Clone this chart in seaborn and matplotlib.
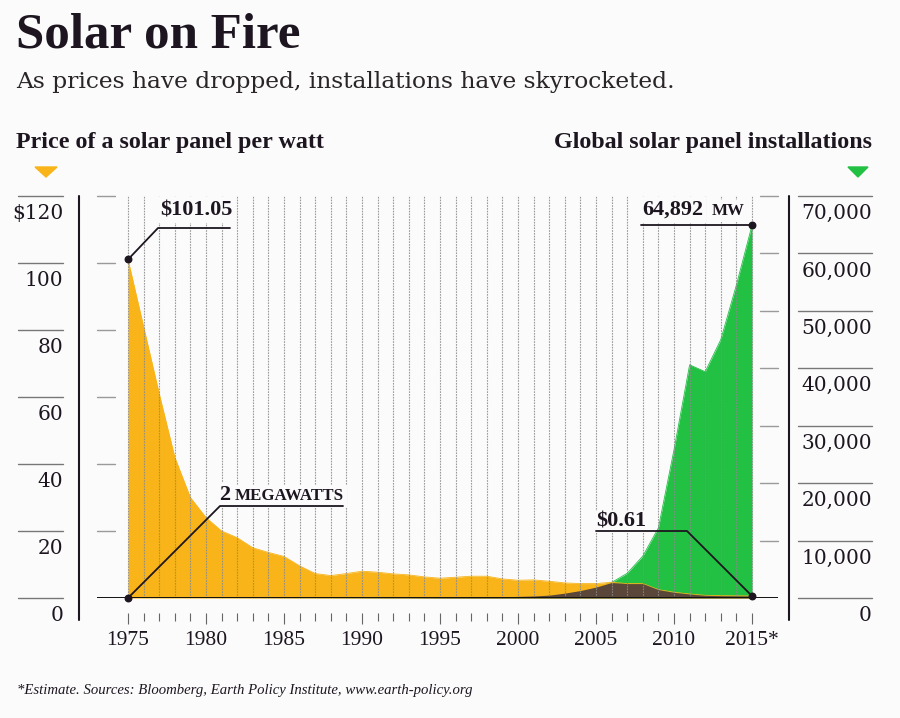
import numpy as np
import pandas as pd
import matplotlib
matplotlib.use("Agg")
import matplotlib.pyplot as plt
import matplotlib.transforms as mtransforms
from matplotlib.lines import Line2D
from matplotlib.patches import Polygon
import seaborn as sns

# data
years = list(range(1975, 2016))
price = [101.05, 81, 61, 42, 30, 24, 20, 18, 15, 13.6,
         12.4, 9.6, 7.3, 6.7, 7.3, 8.0, 7.7, 7.2, 6.9, 6.3,
         5.9, 6.2, 6.5, 6.5, 5.7, 5.3, 5.4, 5.0, 4.5, 4.3,
         4.3, 4.7, 4.3, 4.3, 2.5, 1.7, 1.2, 0.8, 0.7, 0.65,
         0.61]
installs = [2, 2, 3, 3, 4, 7, 9, 12, 17, 22,
            25, 28, 30, 35, 40, 45, 55, 58, 60, 70,
            80, 90, 120, 150, 200, 280, 350, 500, 850, 1300,
            1900, 2700, 4300, 7300, 12200, 25800, 40600, 39400, 45000, 54500,
            64892]

price_ticks = [0, 20, 40, 60, 80, 100, 120]
price_labels = ["0", "20", "40", "60", "80", "100", "$120"]
mw_ticks = [0, 10000, 20000, 30000, 40000, 50000, 60000, 70000]
mw_labels = ["0", "10,000", "20,000", "30,000", "40,000", "50,000", "60,000", "70,000"]
year_ticks = [1975, 1980, 1985, 1990, 1995, 2000, 2005, 2010, 2015]
year_labels = ["1975", "1980", "1985", "1990", "1995", "2000", "2005", "2010", "2015*"]

ORANGE = "#F8B418"
GREEN = "#22C043"
BROWN = "#5B4739"
INK = "#1d1620"
BG = "#FBFBFB"
GRID = "#8a8a8a"

df = pd.DataFrame({"year": years, "price": price, "mw": installs})
# installs expressed on the price scale, to find where both areas overlap
df["mw_as_price"] = df["mw"] * price_ticks[-1] / mw_ticks[-1]
df["overlap"] = np.minimum(df["price"], df["mw_as_price"])

sns.set_theme(style="white")
plt.rcParams["font.family"] = ["DejaVu Serif"]

W, H = 900, 718
fig = plt.figure(figsize=(W / 100, H / 100), dpi=100, facecolor=BG)


def fx(px):
    return px / W


def fy(py):
    return 1 - py / H


ax = fig.add_axes([fx(97), fy(598), (778 - 97) / W, (598 - 196) / H])
ax2 = ax.twinx()
ax.set_zorder(ax2.get_zorder() + 1)
ax.patch.set_visible(False)
ax2.patch.set_visible(False)

# green installations (behind)
sns.lineplot(data=df, x="year", y="mw", ax=ax2, color=GREEN, lw=0.6)
ax2.fill_between(df["year"], df["mw"], color=GREEN, lw=0)
ax2.set_ylim(mw_ticks[0], mw_ticks[-1])

# orange price + dark overlap (front)
sns.lineplot(data=df, x="year", y="price", ax=ax, color=ORANGE, lw=0.6)
ax.fill_between(df["year"], df["price"], color=ORANGE, lw=0)
ax.fill_between(df["year"], df["overlap"], color=BROWN, lw=0, zorder=2.5)
ax.set_ylim(price_ticks[0], price_ticks[-1])
ax.set_xlim(1975 - 31 / 15.6, 2015 + 26 / 15.6)

# dotted year grid
ax.vlines(years, 0, price_ticks[-1], colors=GRID, lw=0.8,
          linestyles=(0, (1.5, 1.0)), alpha=0.85, zorder=3)
ax.axhline(0, color="#111111", lw=1.4, zorder=4)

for a in (ax, ax2):
    for s in a.spines.values():
        s.set_visible(False)
    a.set_xlabel("")
    a.set_ylabel("")
ax.tick_params(axis="y", left=False, labelleft=False)
ax2.tick_params(axis="y", right=False, labelright=False)

# year ticks hanging under the baseline
ax.spines["bottom"].set_position(("outward", 11))
ax.set_xticks(year_ticks, year_labels)
ax.set_xticks(years, minor=True)
ax.tick_params(axis="x", which="both", bottom=True, color="#666666", width=0.8)
ax.tick_params(axis="x", which="major", length=8, pad=5, labelsize=15.5, labelcolor=INK)
ax.tick_params(axis="x", which="minor", length=5.8)
for lab in ax.get_xticklabels():
    lab.set_fontfamily("Liberation Serif")

# left scale
tl_in = mtransforms.blended_transform_factory(ax.transAxes, ax.transData)
tl_out = mtransforms.blended_transform_factory(fig.transFigure, ax.transData)
tl_txt = mtransforms.offset_copy(tl_out, fig=fig, y=-23, units="dots")
for v, lab in zip(price_ticks, price_labels):
    if v > 0:
        ax.plot([0, 18 / 681], [v, v], transform=tl_in, color="#9a9a9a", lw=1, clip_on=False)
    ax.plot([fx(18), fx(63)], [v, v], transform=tl_out, color="#777777", lw=1, clip_on=False)
    ax.text(fx(63), v, lab, transform=tl_txt, ha="right", va="baseline",
            fontsize=14.5, color=INK)

# right scale
tr_in = mtransforms.blended_transform_factory(ax2.transAxes, ax2.transData)
tr_out = mtransforms.blended_transform_factory(fig.transFigure, ax2.transData)
tr_txt = mtransforms.offset_copy(tr_out, fig=fig, y=-23, units="dots")
for v, lab in zip(mw_ticks, mw_labels):
    if v > 0:
        ax2.plot([1 - 18 / 681, 1], [v, v], transform=tr_in, color="#9a9a9a", lw=1, clip_on=False)
    ax2.plot([fx(798), fx(872)], [v, v], transform=tr_out, color="#777777", lw=1, clip_on=False)
    ax2.text(fx(872), v, lab, transform=tr_txt, ha="right", va="baseline",
             fontsize=14.5, color=INK)

fig.add_artist(Line2D([fx(79), fx(79)], [fy(196), fy(620)], color=INK, lw=1.5))
fig.add_artist(Line2D([fx(789), fx(789)], [fy(196), fy(620)], color=INK, lw=1.5))


# annotations, laid out in pixels of the reference
def at(px, py):
    return ax.transData.inverted().transform((px, H - py))


lab_kw = dict(fontfamily="Liberation Serif", fontweight="bold", color=INK,
              va="baseline", ha="left", zorder=6)
box = dict(fc=BG, ec="none", pad=2)
lead_kw = dict(color=INK, lw=1.3, zorder=7, clip_on=False)
dot_kw = dict(s=22, color=INK, zorder=8, clip_on=False)

# $101.05
p0, p1 = at(158, 228), at(230, 228)
ax.plot([years[0], p0[0], p1[0]], [price[0], p0[1], p1[1]], **lead_kw)
ax.scatter([years[0]], [price[0]], **dot_kw)
ax.text(*at(160, 215), "$101.05", fontsize=16, bbox=box, **lab_kw)

# 2 megawatts
p0, p1 = at(220, 506), at(343, 506)
ax.plot([years[0], p0[0], p1[0]], [df["mw_as_price"].iloc[0], p0[1], p1[1]], **lead_kw)
ax.scatter([years[0]], [df["mw_as_price"].iloc[0]], **dot_kw)
ax.text(*at(219, 500), "2", fontsize=16, bbox=box, **lab_kw)
ax.text(*at(235, 500), "MEGAWATTS", fontsize=12.2, bbox=box, **lab_kw)

# 64,892 MW
p0 = at(641, 0)
ax.plot([p0[0], years[-1]], [df["mw_as_price"].iloc[-1]] * 2, **lead_kw)
ax.scatter([years[-1]], [df["mw_as_price"].iloc[-1]], **dot_kw)
ax.text(*at(642, 215), "64,892", fontsize=16, bbox=box, **lab_kw)
ax.text(*at(712, 215), "MW", fontsize=12.2, bbox=box, **lab_kw)

# $0.61
p0, p1 = at(687, 531), at(596, 531)
ax.plot([years[-1], p0[0], p1[0]], [price[-1], p0[1], p1[1]], **lead_kw)
ax.scatter([years[-1]], [price[-1]], **dot_kw)
ax.text(*at(596, 527), "$0.61", fontsize=16, bbox=dict(fc=BG, ec="none", pad=1), **lab_kw)

# titles and headers
fig.text(fx(16), fy(47), "Solar on Fire", fontfamily="Liberation Serif",
         fontweight="bold", fontsize=36.7, color=INK, va="baseline")
fig.text(fx(16), fy(88), "As prices have dropped, installations have skyrocketed.",
         fontfamily="DejaVu Serif", fontsize=16.8, color="#2a2528", va="baseline")
fig.text(fx(16), fy(148), "Price of a solar panel per watt", fontfamily="Liberation Serif",
         fontweight="bold", fontsize=17.3, color=INK, va="baseline")
fig.text(fx(872), fy(148), "Global solar panel installations", fontfamily="Liberation Serif",
         fontweight="bold", fontsize=17.3, color=INK, va="baseline", ha="right")
fig.add_artist(Polygon([(fx(35), fy(167)), (fx(57), fy(167)), (fx(46), fy(177))],
                       closed=True, color=ORANGE, transform=fig.transFigure))
fig.add_artist(Polygon([(fx(848), fy(167)), (fx(868), fy(167)), (fx(858), fy(177))],
                       closed=True, color=GREEN, transform=fig.transFigure))
fig.text(fx(17), fy(694),
         "*Estimate. Sources: Bloomberg, Earth Policy Institute, www.earth-policy.org",
         fontfamily="Liberation Serif", fontstyle="italic", fontsize=10.6, color=INK,
         va="baseline")

fig.savefig("out.png", dpi=100, facecolor=BG)
